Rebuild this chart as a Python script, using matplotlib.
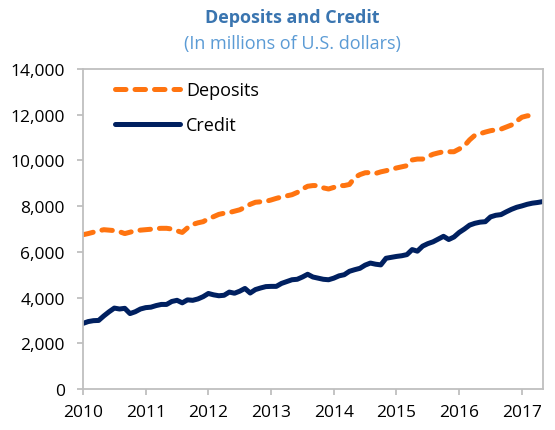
import matplotlib
matplotlib.use("Agg")
import matplotlib.pyplot as plt
import numpy as np

plt.rcParams['font.family'] = ['Open Sans', 'DejaVu Sans']

title = "Deposits and Credit"
subtitle = "(In millions of U.S. dollars)"
years = ["2010", "2011", "2012", "2013", "2014", "2015", "2016", "2017"]

# Monthly values starting January 2010
credit = [2870, 2950, 2990, 3000, 3200, 3380, 3540, 3500, 3530, 3300,
          3380, 3500, 3560, 3580, 3650, 3700, 3700, 3830, 3880, 3770,
          3900, 3880, 3940, 4040, 4180, 4120, 4080, 4100, 4240, 4190,
          4280, 4400, 4200, 4350, 4420, 4480, 4490, 4490, 4620, 4700,
          4780, 4800, 4900, 5020, 4900, 4850, 4800, 4780, 4850, 4950,
          5000, 5150, 5220, 5280, 5420, 5510, 5460, 5430, 5720, 5760,
          5800, 5830, 5880, 6100, 6030, 6250, 6360, 6440, 6560, 6680,
          6540, 6650, 6850, 7000, 7170, 7250, 7300, 7320, 7530, 7600,
          7630, 7750, 7860, 7950, 8010, 8080, 8130, 8160, 8200]

deposits = [6750, 6800, 6860, 6920, 6970, 6950, 6930, 6880, 6800, 6860,
            6920, 6950, 6970, 6990, 7020, 7030, 7030, 7000, 6920, 6850,
            7050, 7200, 7270, 7320, 7450, 7540, 7640, 7690, 7720, 7780,
            7840, 7950, 8080, 8170, 8190, 8210, 8270, 8340, 8400, 8450,
            8500, 8600, 8750, 8870, 8900, 8900, 8800, 8750, 8820, 8900,
            8900, 8950, 9250, 9380, 9460, 9470, 9430, 9500, 9550, 9610,
            9670, 9720, 9770, 10020, 10060, 10060, 10170, 10270, 10330, 10380,
            10380, 10380, 10500, 10640, 10900, 11100, 11170, 11240, 11300, 11340,
            11370, 11460, 11550, 11720, 11890, 11950, 11970]

orange = "#FF7410"
navy = "#002060"
grey = "#BFBFBF"

fig = plt.figure(figsize=(5.55, 4.31), dpi=100)
ax = fig.add_axes([0.1495, 0.0951, 0.8285, 0.7425])

x_dep = np.arange(len(deposits))
x_cred = np.arange(len(credit))

ax.plot(x_dep, deposits, color=orange, lw=3.6, dashes=(2.1, 1.8),
        dash_capstyle='round', solid_capstyle='round', label="Deposits")
ax.plot(x_cred, credit, color=navy, lw=3.6, solid_capstyle='round',
        solid_joinstyle='round', label="Credit")

ax.set_xlim(0, 88)
ax.set_ylim(0, 14000)
ax.set_xticks(np.arange(len(years)) * 12)
ax.set_xticklabels(years)
ax.set_yticks(np.arange(0, 14001, 2000))
ax.set_yticklabels([f"{v:,}" for v in range(0, 14001, 2000)])

for s in ax.spines.values():
    s.set_color(grey)
    s.set_linewidth(1.3)

ax.tick_params(axis='both', colors=grey, labelcolor='black', labelsize=12.5,
               length=4, width=1.3, direction='out')
ax.tick_params(axis='x', pad=7)
ax.tick_params(axis='y', pad=9)

leg = ax.legend(loc='upper left', frameon=False, fontsize=13,
                handlelength=3.6, handletextpad=0.3, labelspacing=0.95,
                bbox_to_anchor=(0.055, 0.985), borderaxespad=0)

fig.text(0.527, 0.958, title, ha='center', va='center', fontsize=13,
         fontweight='bold', color="#3A75B0")
fig.text(0.527, 0.898, subtitle, ha='center', va='center', fontsize=13,
         color="#5B9BD5")

fig.savefig("out.png", dpi=100)
